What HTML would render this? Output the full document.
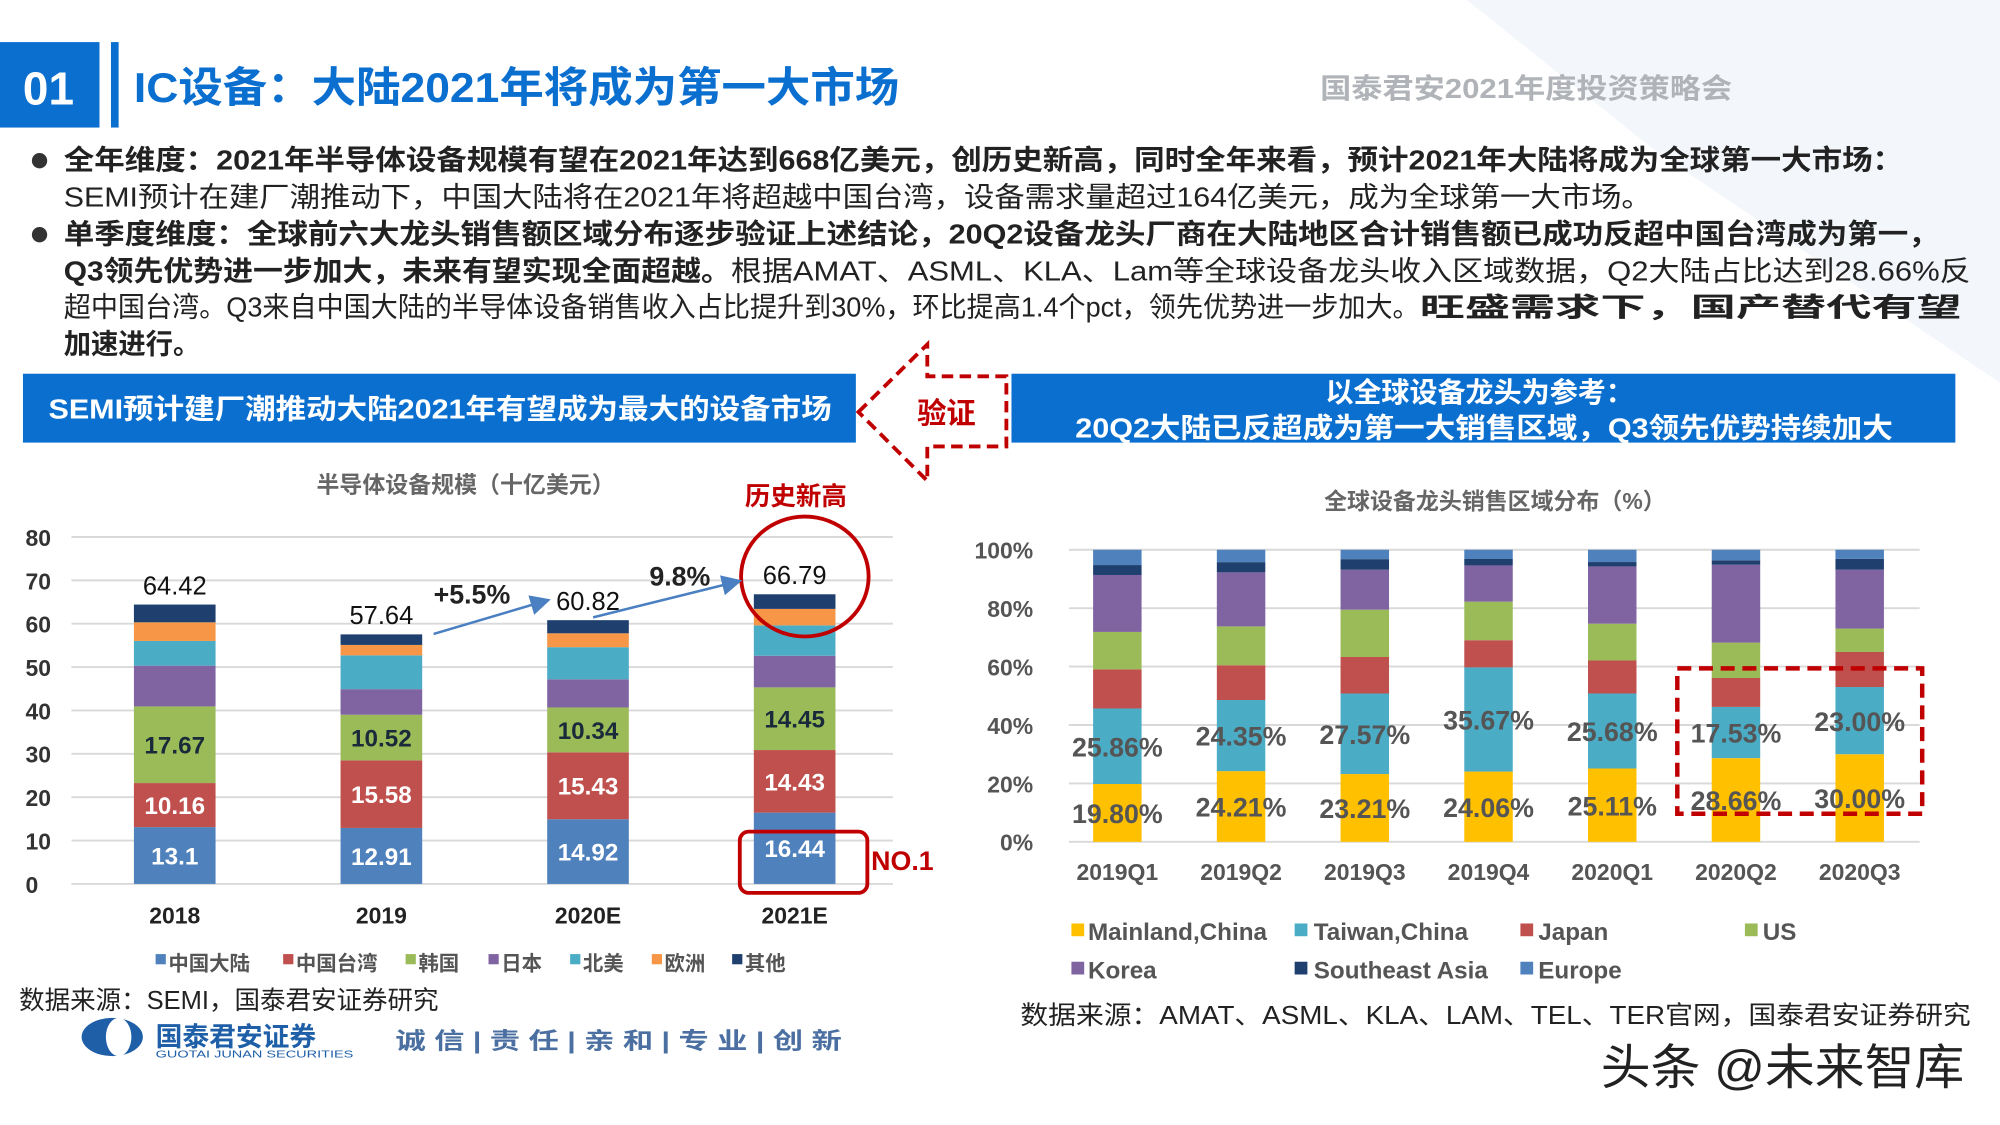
<!DOCTYPE html>
<html><head><meta charset="utf-8"><style>
html,body{margin:0;padding:0;background:#fff;}
svg{display:block;}
text{font-family:"Liberation Sans","Noto Sans CJK SC",sans-serif;}
</style></head><body>
<svg id="page" width="2000" height="1125" viewBox="0 0 1568 882" xmlns="http://www.w3.org/2000/svg">
<rect x="0" y="0" width="1568" height="882" fill="#fff"/>
<polygon points="1150,0 1568,0 1568,300 1300,120" fill="#f3f6fa"/>
<g>
<rect x="0" y="33" width="78" height="67" fill="#0a6fcf"/>
<text x="38" y="82" font-size="36" font-weight="bold" fill="#fff" text-anchor="middle">01</text>
<rect x="87" y="33" width="6" height="67" fill="#0a6fcf"/>
<text x="105" y="80" font-size="33" font-weight="bold" fill="#0a6fcf" textLength="600" lengthAdjust="spacingAndGlyphs">IC设备：大陆2021年将成为第一大市场</text>
<text x="1035" y="77" font-size="22" font-weight="bold" fill="#b0b4b8" textLength="323" lengthAdjust="spacingAndGlyphs">国泰君安2021年度投资策略会</text>
</g>
<g font-size="22" fill="#222">
<circle cx="31" cy="126" r="6" fill="#333"/>
<circle cx="31" cy="184" r="6" fill="#333"/>
<text x="50" y="133" font-weight="bold" textLength="1442" lengthAdjust="spacingAndGlyphs">全年维度：2021年半导体设备规模有望在2021年达到668亿美元，创历史新高，同时全年来看，预计2021年大陆将成为全球第一大市场：</text>
<text x="50" y="162" textLength="1245" lengthAdjust="spacingAndGlyphs">SEMI预计在建厂潮推动下，中国大陆将在2021年将超越中国台湾，设备需求量超过164亿美元，成为全球第一大市场。</text>
<text x="50" y="191" font-weight="bold" textLength="1470" lengthAdjust="spacingAndGlyphs">单季度维度：全球前六大龙头销售额区域分布逐步验证上述结论，20Q2设备龙头厂商在大陆地区合计销售额已成功反超中国台湾成为第一，</text>
<text x="50" y="220" font-weight="bold" textLength="523" lengthAdjust="spacingAndGlyphs">Q3领先优势进一步加大，未来有望实现全面超越。</text>
<text x="573" y="220" textLength="972" lengthAdjust="spacingAndGlyphs">根据AMAT、ASML、KLA、Lam等全球设备龙头收入区域数据，Q2大陆占比达到28.66%反</text>
<text x="50" y="248" textLength="1063" lengthAdjust="spacingAndGlyphs">超中国台湾。Q3来自中国大陆的半导体设备销售收入占比提升到30%，环比提高1.4个pct，领先优势进一步加大。</text>
<text x="1113" y="248" font-weight="bold" font-size="21" textLength="425" lengthAdjust="spacingAndGlyphs">旺盛需求下，国产替代有望</text>
<text x="50" y="277" font-weight="bold" textLength="107" lengthAdjust="spacingAndGlyphs">加速进行。</text>
</g>
<rect x="18" y="293" width="653" height="54" fill="#0a6fcf"/>
<text x="38" y="328" font-size="22" font-weight="bold" fill="#fff" textLength="614" lengthAdjust="spacingAndGlyphs">SEMI预计建厂潮推动大陆2021年有望成为最大的设备市场</text>
<rect x="793" y="293" width="740" height="54" fill="#0a6fcf"/>
<text x="1160" y="315" font-size="22" font-weight="bold" fill="#fff" text-anchor="middle">以全球设备龙头为参考：</text>
<text x="843" y="343" font-size="22" font-weight="bold" fill="#fff" textLength="641" lengthAdjust="spacingAndGlyphs">20Q2大陆已反超成为第一大销售区域，Q3领先优势持续加大</text>
<g>
<polygon points="673,323 727,270 727,295 789,295 789,350 727,350 727,377" fill="#fff" stroke="#c00000" stroke-width="3" stroke-dasharray="9,5"/>
<text x="742" y="332" font-size="23" font-weight="bold" fill="#c00000" text-anchor="middle">验证</text>
</g>
<g id="leftChart">
<text x="365" y="386" font-size="18" font-weight="bold" fill="#666" text-anchor="middle">半导体设备规模（十亿美元）</text>
</g>
<g>
<text x="624" y="396" font-size="20" font-weight="bold" fill="#c00000" text-anchor="middle">历史新高</text>
<ellipse cx="631" cy="452" rx="50" ry="47" fill="none" stroke="#c00000" stroke-width="3"/>
<rect x="580" y="652" width="100" height="48" rx="7" fill="none" stroke="#c00000" stroke-width="3"/>
<text x="683" y="682" font-size="21" font-weight="bold" fill="#c00000">NO.1</text>
<defs><marker id="ah" markerWidth="8" markerHeight="8" refX="6" refY="4" orient="auto"><path d="M0,0 L8,4 L0,8 z" fill="#4a7fc1"/></marker></defs>
<line x1="340" y1="497" x2="428" y2="471" stroke="#4a7fc1" stroke-width="2" marker-end="url(#ah)"/>
<line x1="465" y1="484" x2="578" y2="456" stroke="#4a7fc1" stroke-width="2" marker-end="url(#ah)"/>
<text x="370" y="473" font-size="21" font-weight="bold" fill="#222" text-anchor="middle">+5.5%</text>
<text x="533" y="459" font-size="21" font-weight="bold" fill="#222" text-anchor="middle">9.8%</text>
</g>
<g font-size="16" font-weight="bold" fill="#555">
<rect x="122" y="748" width="8" height="8" fill="#4f81bd"/><text x="132" y="761">中国大陆</text>
<rect x="222" y="748" width="8" height="8" fill="#c0504d"/><text x="232" y="761">中国台湾</text>
<rect x="318" y="748" width="8" height="8" fill="#9bbb59"/><text x="328" y="761">韩国</text>
<rect x="383" y="748" width="8" height="8" fill="#8064a2"/><text x="393" y="761">日本</text>
<rect x="447" y="748" width="8" height="8" fill="#4bacc6"/><text x="457" y="761">北美</text>
<rect x="511" y="748" width="8" height="8" fill="#f79646"/><text x="521" y="761">欧洲</text>
<rect x="574" y="748" width="8" height="8" fill="#1f3f6e"/><text x="584" y="761">其他</text>
</g>
<text x="15" y="791" font-size="20" fill="#222">数据来源：SEMI，国泰君安证券研究</text>
<g>
<ellipse cx="88" cy="813" rx="24" ry="15" fill="#1e5fa8"/>
<ellipse cx="93" cy="813" rx="10" ry="15" fill="#fff"/>
<text x="122" y="820" font-size="21" font-weight="bold" fill="#1e5fa8">国泰君安证券</text>
<text x="122" y="829" font-size="8" fill="#1e5fa8" textLength="155" lengthAdjust="spacingAndGlyphs">GUOTAI JUNAN SECURITIES</text>
<text x="310" y="822" font-size="18" font-weight="bold" fill="#4a6fa0" textLength="350" lengthAdjust="spacingAndGlyphs">诚 信 | 责 任 | 亲 和 | 专 业 | 创 新</text>
</g>
<g id="rightChart">
<text x="1172" y="399" font-size="18" font-weight="bold" fill="#666" text-anchor="middle">全球设备龙头销售区域分布（%）</text>
</g>
<rect x="1315" y="524" width="192" height="114" fill="none" stroke="#c00000" stroke-width="3.5" stroke-dasharray="11,6"/>
<g font-size="19" font-weight="bold" fill="#555">
<rect x="840" y="724" width="10" height="10" fill="#ffc000"/><text x="853" y="737">Mainland,China</text>
<rect x="1015" y="724" width="10" height="10" fill="#4bacc6"/><text x="1030" y="737">Taiwan,China</text>
<rect x="1192" y="724" width="10" height="10" fill="#c0504d"/><text x="1206" y="737">Japan</text>
<rect x="1368" y="724" width="10" height="10" fill="#9bbb59"/><text x="1382" y="737">US</text>
<rect x="840" y="754" width="10" height="10" fill="#8064a2"/><text x="853" y="767">Korea</text>
<rect x="1015" y="754" width="10" height="10" fill="#1f3f6e"/><text x="1030" y="767">Southeast Asia</text>
<rect x="1192" y="754" width="10" height="10" fill="#4f81bd"/><text x="1206" y="767">Europe</text>
</g>
<text x="800" y="803" font-size="20" fill="#222" textLength="745" lengthAdjust="spacingAndGlyphs">数据来源：AMAT、ASML、KLA、LAM、TEL、TER官网，国泰君安证券研究</text>
<text x="1255" y="850" font-size="38" fill="#222" textLength="285" lengthAdjust="spacingAndGlyphs">头条 @未来智库</text>
</svg>
<script>
const leftCategories = ["2018","2019","2020E","2021E"];
const leftMainland = [13.1,12.91,14.92,16.44];
const leftTaiwan = [10.16,15.58,15.43,14.43];
const leftKorea = [17.67,10.52,10.34,14.45];
const leftJapan = [9.4,5.9,6.5,7.3];
const leftNA = [5.7,7.8,7.4,7.0];
const leftEurope = [4.3,2.4,3.2,3.8];
const leftOther = [4.09,2.43,3.03,3.37];
const leftTotals = ["64.42","57.64","60.82","66.79"];
const leftTicks = [0,10,20,30,40,50,60,70,80];
const rightCategories = ["2019Q1","2019Q2","2019Q3","2019Q4","2020Q1","2020Q2","2020Q3"];
const rMainland = [19.80,24.21,23.21,24.06,25.11,28.66,30.00];
const rTaiwan = [25.86,24.35,27.57,35.67,25.68,17.53,23.00];
const rJapan = [13.4,11.9,12.5,9.3,11.3,9.9,12.0];
const rUS = [12.8,13.3,16.2,13.2,12.6,12.1,8.0];
const rKorea = [19.5,18.5,13.7,12.4,19.6,26.7,20.2];
const rSEA = [3.4,3.5,3.6,2.2,1.5,1.5,3.7];
const rEurope = [5.24,4.24,3.22,3.17,4.21,3.61,3.1];
const rightTicks = [0,20,40,60,80,100];

const NS="http://www.w3.org/2000/svg";
function mk(tag, attrs, parent, txt){const e=document.createElementNS(NS,tag);for(const k in attrs)e.setAttribute(k,attrs[k]);if(txt!==undefined)e.textContent=txt;parent.appendChild(e);return e;}

const L = document.getElementById('leftChart');
const ly = v => 693 - v*(693-421)/80;
const lx = i => 137 + i*162;
leftTicks.forEach(t=>{
  const g=mk('line',{x1:56,x2:700,y1:ly(t),y2:ly(t),stroke:'#d9d9d9','stroke-width':1.5},L);
  
  
  const tx=mk('text',{x:20,y:ly(t)+7,'font-size':18,'font-weight':'bold',fill:'#333'},L,String(t));
  
  
});
const lSeries=[[leftMainland,'#4f81bd','#fff'],[leftTaiwan,'#c0504d','#fff'],[leftKorea,'#9bbb59','#1a2a3a'],[leftJapan,'#8064a2',null],[leftNA,'#4bacc6',null],[leftEurope,'#f79646',null],[leftOther,'#1f3f6e',null]];
leftCategories.forEach((c,i)=>{
  let base=0;
  lSeries.forEach(([arr,col,lc])=>{
    const v=arr[i];
    const r=mk('rect',{x:lx(i)-32,y:ly(base+v),width:64,height:ly(base)-ly(base+v),fill:col},L);
    
    
    if(lc){
      const t=mk('text',{x:lx(i),y:ly(base+v/2)+7,'font-size':19,'font-weight':'bold',fill:lc,'text-anchor':'middle'},L,String(v));
      
      
    }
    base+=v;
  });
  const tt=mk('text',{x:lx(i),y:ly(base)-8,'font-size':20,fill:'#111','text-anchor':'middle'},L,leftTotals[i]);
  
  
  const xl=mk('text',{x:lx(i),y:724,'font-size':18,'font-weight':'bold',fill:'#222','text-anchor':'middle'},L,c);
  
  
});

const R = document.getElementById('rightChart');
const ry = v => 660 - v*(660-431)/100;
const rx = i => 876 + i*97;
rightTicks.forEach(t=>{
  const g=mk('line',{x1:838,x2:1505,y1:ry(t),y2:ry(t),stroke:'#d9d9d9','stroke-width':1.5},R);
  
  
  const tx=mk('text',{x:810,y:ry(t)+7,'font-size':18,'font-weight':'bold',fill:'#555','text-anchor':'end'},R,t+'%');
  
  
});
const rSeries=[[rMainland,'#ffc000',true],[rTaiwan,'#4bacc6',true],[rJapan,'#c0504d',false],[rUS,'#9bbb59',false],[rKorea,'#8064a2',false],[rSEA,'#1f3f6e',false],[rEurope,'#4f81bd',false]];
rightCategories.forEach((c,i)=>{
  let base=0;
  const labels=[];
  rSeries.forEach(([arr,col,lab])=>{
    const v=arr[i];
    const r=mk('rect',{x:rx(i)-19,y:ry(base+v),width:38,height:ry(base)-ry(base+v),fill:col},R);
    
    
    if(lab) labels.push([v,base]);
    base+=v;
  });
  labels.forEach(([v,b])=>{
    const t=mk('text',{x:rx(i),y:ry(b+v/2)+8,'font-size':21,'font-weight':'bold',fill:'#555','text-anchor':'middle'},R,v.toFixed(2)+'%');
    
    
  });
  const xl=mk('text',{x:rx(i),y:690,'font-size':18,'font-weight':'bold',fill:'#555','text-anchor':'middle'},R,c);
  
  
});
</script>
</body></html>
